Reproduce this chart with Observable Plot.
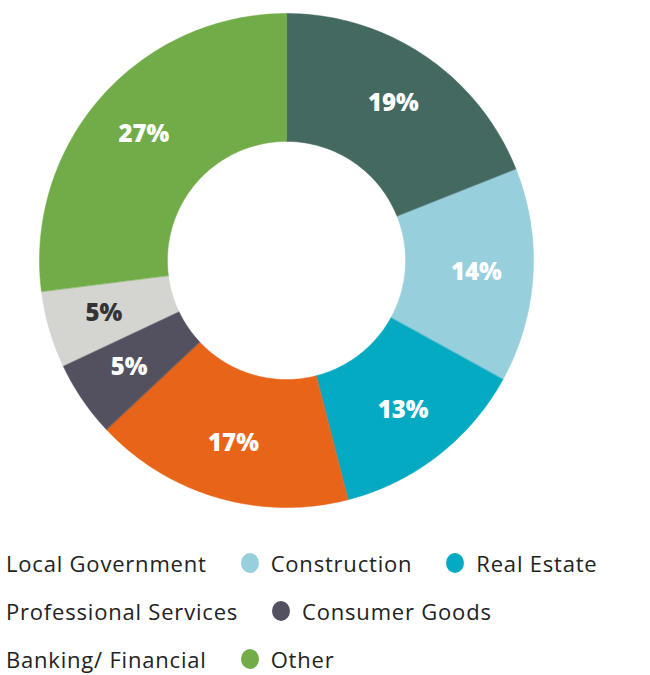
<!DOCTYPE html>
<html>
<head>
<meta charset="utf-8">
<script src="https://cdn.jsdelivr.net/npm/d3@7"></script>
<script src="https://cdn.jsdelivr.net/npm/@observablehq/plot@0.6"></script>
<style>
  html, body { margin: 0; padding: 0; background: #fff; overflow: hidden; }
  #chart svg { display: block; }
  .legend { position: relative; left: -24px; padding-top: 19px; font-family: "Open Sans", sans-serif; font-size: 22px; letter-spacing: 0.8px; color: #222; }
  .row { display: flex; align-items: center; height: 48px; white-space: nowrap; }
  .item { display: inline-flex; align-items: center; margin-right: 34px; }
  .sw { width: 18px; height: 20px; border-radius: 50%; margin-right: 12px; display: inline-block; flex: none; }
</style>
</head>
<body>
<div id="chart"></div>
<div class="legend" id="legend"></div>
<script>
const categories = ["Local Government", "Construction", "Real Estate", "Professional Services", "Consumer Goods", "Banking/ Financial", "Other"];
const shares = [19, 14, 13, 17, 5, 5, 27];
const colors = ["#436960", "#97cfdd", "#04a9c2", "#e86419", "#53515f", "#d4d4d0", "#71ac48"];
const labelColors = ["#fff", "#fff", "#fff", "#fff", "#fff", "#333", "#fff"];
const legendRows = [["Local Government", "Construction", "Real Estate"], ["Professional Services", "Consumer Goods"], ["Banking/ Financial", "Other"]];

const W = 650, H = 520;
const R = 247, innerFrac = 0.482, labelFrac = 0.77;
const cx = 286, cy = 260;

const data = categories.map((c, i) => ({category: c, value: shares[i]}));
const arcs = d3.pie().sort(null).value(d => d.value)(data);

// polygon outline of each slice (angles clockwise from north)
const pts = [];
arcs.forEach(a => {
  const n = Math.max(8, Math.ceil((a.endAngle - a.startAngle) * 60));
  for (let k = 0; k <= n; k++) {
    const t = a.startAngle + (a.endAngle - a.startAngle) * k / n;
    pts.push({category: a.data.category, x: Math.sin(t), y: -Math.cos(t)});
  }
  for (let k = n; k >= 0; k--) {
    const t = a.startAngle + (a.endAngle - a.startAngle) * k / n;
    pts.push({category: a.data.category, x: innerFrac * Math.sin(t), y: -innerFrac * Math.cos(t)});
  }
});
const labels = arcs.map((a, i) => {
  const m = (a.startAngle + a.endAngle) / 2;
  return {category: a.data.category, text: a.data.value + "%", x: labelFrac * Math.sin(m), y: -labelFrac * Math.cos(m), c: labelColors[i]};
});

const chart = Plot.plot({
  width: W, height: H,
  margin: 0,
  x: {domain: [-cx / R, (W - cx) / R], axis: null},
  y: {domain: [(H - cy) / R, -cy / R], axis: null},
  color: {domain: categories, range: colors},
  marks: [
    Plot.line(pts, {x: "x", y: "y", z: "category", fill: "category", stroke: "category", strokeWidth: 0.5, curve: "linear-closed"}),
    Plot.text(labels, {x: "x", y: "y", text: "text", fill: d => d.c, fontSize: 24, fontWeight: 800, fontFamily: "Open Sans, sans-serif"})
  ]
});
document.getElementById("chart").appendChild(chart);

const leg = document.getElementById("legend");
legendRows.forEach(r => {
  const row = document.createElement("div");
  row.className = "row";
  r.forEach(name => {
    const it = document.createElement("span");
    it.className = "item";
    const sw = document.createElement("span");
    sw.className = "sw";
    sw.style.background = colors[categories.indexOf(name)];
    it.appendChild(sw);
    it.appendChild(document.createTextNode(name));
    row.appendChild(it);
  });
  leg.appendChild(row);
});
</script>
</body>
</html>
